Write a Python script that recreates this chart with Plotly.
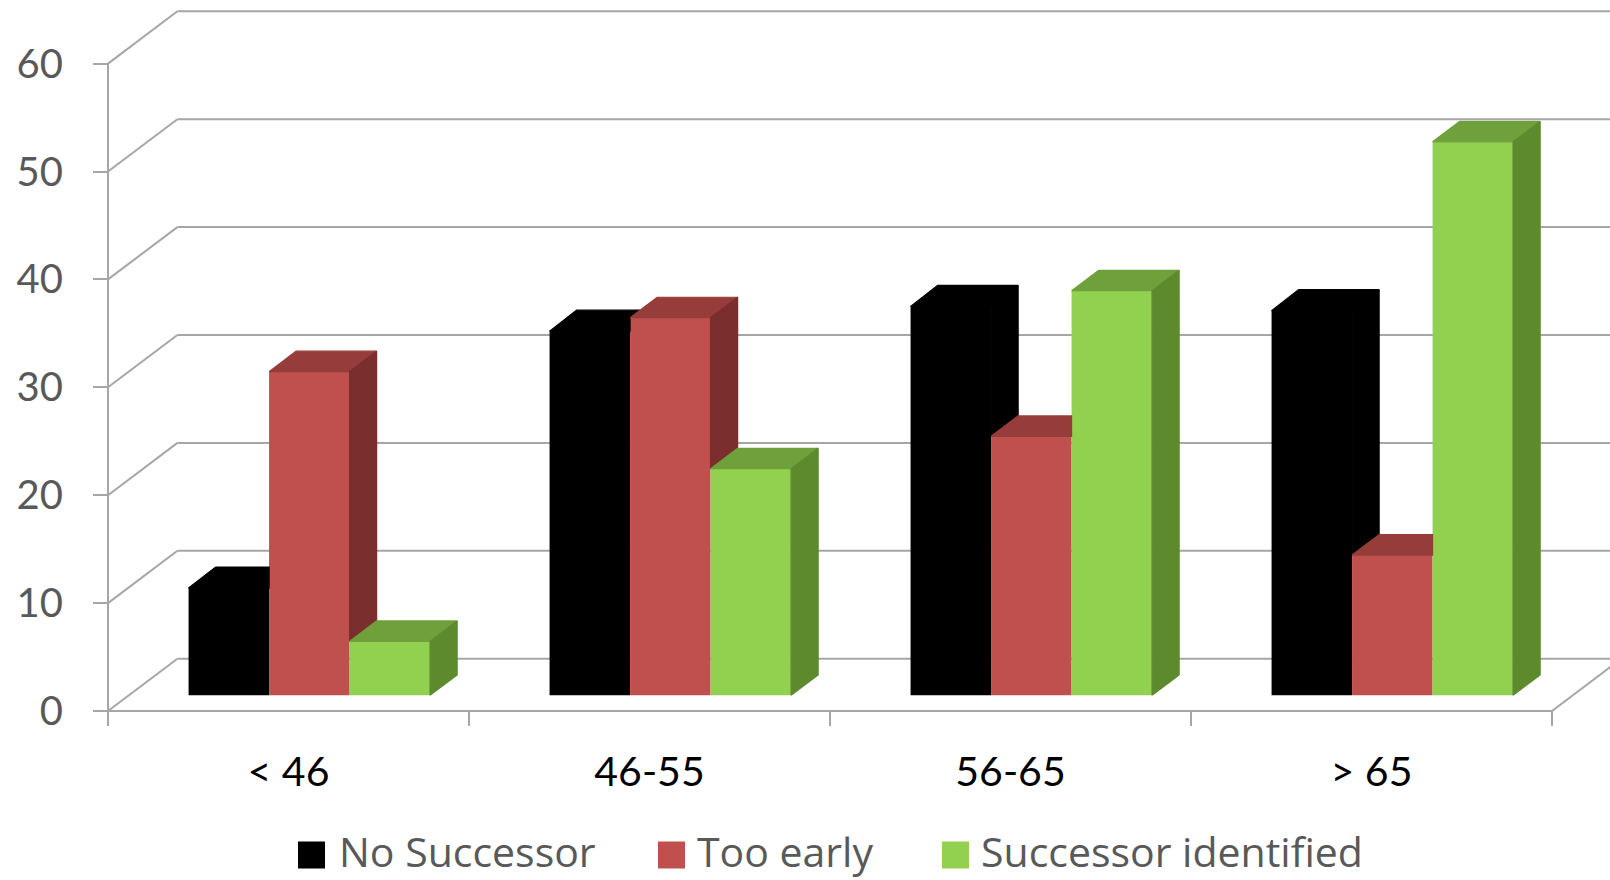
import plotly.graph_objects as go

# ---------------- data ----------------
categories = ["< 46", "46-55", "56-65", "> 65"]
series_names = ["No Successor", "Too early", "Successor identified"]
no_successor = [10, 33.8, 36.1, 35.7]
too_early = [30, 35, 24, 13]
successor_identified = [5, 21, 37.5, 51.3]
y_tick_values = [0, 10, 20, 30, 40, 50, 60]
y_tick_labels = ["0", "10", "20", "30", "40", "50", "60"]

series_values = [no_successor, too_early, successor_identified]
front_colors = ["#000000", "#C0504D", "#92D050"]
top_colors = ["#000000", "#963C3A", "#70A03C"]
side_colors = ["#000000", "#7A2E2D", "#5E8A2E"]
grid_color = "#A6A6A6"
FONT = "Lato"
LEGEND_FONT = "Open Sans"

# ---------------- geometry (pixel layout -> data units) ----------------
FIG_W, FIG_H = 1610, 880
AXIS_PX_X = 108.0     # front-left vertical axis
FLOOR_PX_Y = 711.0    # front floor line
CAT_PX = 361.0        # pixels per category
UNIT_PX = 10.79       # pixels per value unit
PLOT_L = 96
PLOT_B_PX = 740


def to_x(px):
    return (px - AXIS_PX_X) / CAT_PX


def to_y(py):
    return (FLOOR_PX_Y - py) / UNIT_PX


def paper_x(px):
    return (px - PLOT_L) / (FIG_W - PLOT_L)


def paper_y(py):
    return (PLOT_B_PX - py) / PLOT_B_PX


x_range = [to_x(PLOT_L), to_x(FIG_W)]
y_range = [to_y(PLOT_B_PX), to_y(0)]

DEPTH_X = 69.4 / CAT_PX
DEPTH_Y = 52.3 / UNIT_PX
F_FRONT, F_BACK = 0.30, 0.69
BAR_W = 80.5 / CAT_PX
base = F_FRONT * DEPTH_Y
ddx = (F_BACK - F_FRONT) * DEPTH_X
ddy = (F_BACK - F_FRONT) * DEPTH_Y
EPS = 0.06  # tiny overlap into the front face to hide anti-alias seams
n_cat = len(categories)
n_ser = len(series_values)

fig = go.Figure()

# ---------------- walls / grid (behind everything) ----------------
shapes = []


def seg(x0, y0, x1, y1):
    shapes.append(dict(type="line", xref="x", yref="y", x0=x0, y0=y0, x1=x1, y1=y1,
                       line=dict(color=grid_color, width=2), layer="below"))


for k in y_tick_values:
    seg(0, k, DEPTH_X, k + DEPTH_Y)
    seg(DEPTH_X, k + DEPTH_Y, n_cat + DEPTH_X + 0.2, k + DEPTH_Y)
seg(0, 0, 0, max(y_tick_values))
seg(0, 0, n_cat, 0)
seg(n_cat, 0, n_cat + DEPTH_X, DEPTH_Y)
for i in range(n_cat + 1):
    seg(i, 0, i, -15 / UNIT_PX)

# ---------------- bar fronts ----------------
centers = []
for s in range(n_ser):
    xs = [i + 0.5 + F_FRONT * DEPTH_X + (s - 1) * BAR_W for i in range(n_cat)]
    centers.append(xs)
    fig.add_trace(go.Bar(
        x=xs, y=series_values[s], base=[base] * n_cat, width=BAR_W,
        marker=dict(color=front_colors[s], line=dict(width=0)),
        name=series_names[s], showlegend=False, hoverinfo="skip"))


def poly(pts, color):
    xs = [p[0] for p in pts] + [pts[0][0]]
    ys = [p[1] for p in pts] + [pts[0][1]]
    fig.add_trace(go.Scatter(x=xs, y=ys, mode="lines", fill="toself",
                             fillcolor=color, line=dict(width=1.2, color=color),
                             showlegend=False, hoverinfo="skip"))


# ---------------- visible top and side faces ----------------
for i in range(n_cat):
    for s in range(n_ser):
        v = series_values[s][i]
        xc = centers[s][i]
        xl, xr = xc - BAR_W / 2, xc + BAR_W / 2
        T = base + v
        N = base + series_values[s + 1][i] if s + 1 < n_ser else None
        Te = T - (EPS if s == 0 else 0)
        # top face
        if N is None or N <= T:
            top = [(xl, Te), (xr, Te), (xr + ddx, T + ddy), (xl + ddx, T + ddy)]
        elif N - T < ddy:
            xcut = xr + ddx * (1 - (N - T) / ddy)
            top = [(xl, Te), (xr, Te), (xr, N), (xcut, T + ddy), (xl + ddx, T + ddy)]
        else:
            top = [(xl, Te), (xr, Te), (xr, T + ddy), (xl + ddx, T + ddy)]
        poly(top, top_colors[s])
        # side face
        if N is None:
            side = [(xr, base), (xr + ddx, base + ddy), (xr + ddx, T + ddy), (xr, T)]
            poly(side, side_colors[s])
        elif N < T:
            side = [(xr, N), (xr + ddx, N + ddy), (xr + ddx, T + ddy), (xr, T)]
            poly(side, side_colors[s])

# ---------------- legend (custom, Excel-like) ----------------
legend_sq_px = [298, 658, 942]
legend_txt_px = [337, 695, 979]
LEG_CY = 851
SQ = 27
annotations = []
for s in range(n_ser):
    shapes.append(dict(type="rect", xref="paper", yref="paper",
                       x0=paper_x(legend_sq_px[s]), x1=paper_x(legend_sq_px[s] + SQ),
                       y0=paper_y(LEG_CY + 4 + SQ / 2), y1=paper_y(LEG_CY + 4 - SQ / 2),
                       fillcolor=front_colors[s], line=dict(width=0)))
    annotations.append(dict(xref="paper", yref="paper", x=paper_x(legend_txt_px[s]),
                            y=paper_y(LEG_CY), xanchor="left", yanchor="middle",
                            text=series_names[s], showarrow=False,
                            font=dict(family=LEGEND_FONT, size=41, color="#595959")))

fig.update_layout(
    width=FIG_W, height=FIG_H,
    margin=dict(l=PLOT_L, r=0, t=0, b=FIG_H - PLOT_B_PX, pad=0),
    paper_bgcolor="white", plot_bgcolor="white",
    barmode="overlay", showlegend=False,
    shapes=shapes, annotations=annotations,
    xaxis=dict(range=x_range, tickmode="array", tickvals=[i + 0.5 for i in range(n_cat)],
               ticktext=categories, ticks="", showgrid=False, zeroline=False, showline=False,
               tickfont=dict(family=FONT, size=41, color="#000000"), ticklabelstandoff=4,
               fixedrange=True),
    yaxis=dict(range=y_range, anchor="free", position=paper_x(AXIS_PX_X),
               tickmode="array", tickvals=y_tick_values, ticktext=y_tick_labels,
               ticks="outside", ticklen=15, tickwidth=2, tickcolor=grid_color,
               showgrid=False, zeroline=False, showline=False,
               tickfont=dict(family=FONT, size=40, color="#595959"), ticklabelstandoff=22,
               fixedrange=True),
)

fig.write_html("out.html")
